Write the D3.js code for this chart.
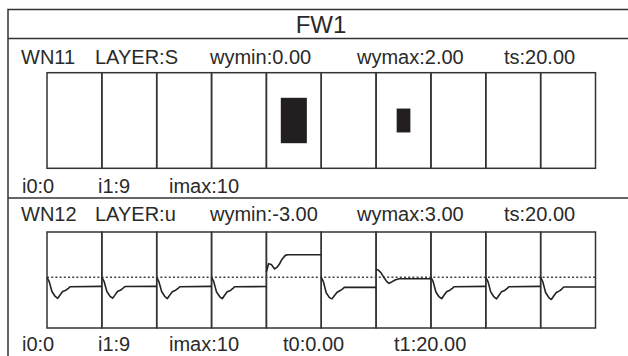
<!DOCTYPE html>
<html>
<head>
<meta charset="utf-8">
<script src="https://cdn.jsdelivr.net/npm/d3@7"></script>
<style>
  html, body { margin: 0; padding: 0; background: #fff; overflow: hidden; }
  text { font-family: "Liberation Sans", Arial, sans-serif; fill: #2a2a2a; }
</style>
</head>
<body>
<script>
// ---------------- data ----------------
const title = "FW1";
const cellIndex = [0, 1, 2, 3, 4, 5, 6, 7, 8, 9];

// panel 1 (LAYER:S)
const p1Header = ["WN11", "LAYER:S", "wymin:0.00", "wymax:2.00", "ts:20.00"];
const p1Footer = ["i0:0", "i1:9", "imax:10"];
const p1YMin = 0, p1YMax = 2;
const p1Values = [0, 0, 0, 0, 0.95, 0, 0.5, 0, 0, 0];

// panel 2 (LAYER:u)
const p2Header = ["WN12", "LAYER:u", "wymin:-3.00", "wymax:3.00", "ts:20.00"];
const p2Footer = ["i0:0", "i1:9", "imax:10", "t0:0.00", "t1:20.00"];
const p2YMin = -3, p2YMax = 3;
const p2T0 = 0, p2T1 = 20;
const p2Ref = 0.17;
const uTimes = [0, 0.8, 1.8, 3.0, 3.9, 4.7, 5.7, 6.9, 7.8, 8.4, 20];
const uSeries = [
  [0.17, -0.10, -0.72, -1.03, -1.15, -0.95, -0.72, -0.64, -0.52, -0.42, -0.40],
  [0.17, -0.08, -0.70, -1.02, -1.14, -0.96, -0.72, -0.63, -0.50, -0.41, -0.40],
  [0.17, -0.10, -0.72, -1.04, -1.16, -0.96, -0.73, -0.64, -0.52, -0.42, -0.40],
  [0.17, -0.10, -0.74, -1.05, -1.17, -0.97, -0.74, -0.65, -0.53, -0.42, -0.41],
  [0.52,  1.02,  0.97,  0.69,  0.80,  0.98,  1.30,  1.54,  1.58,  1.58,  1.58],
  [0.17, -0.12, -0.80, -1.10, -1.18, -1.00, -0.78, -0.66, -0.55, -0.46, -0.46],
  [0.67,  0.62,  0.45,  0.12, -0.10, -0.21, -0.12,  0.00,  0.05,  0.08,  0.08],
  [0.17, -0.10, -0.75, -1.06, -1.17, -0.97, -0.74, -0.64, -0.52, -0.42, -0.40],
  [0.17, -0.10, -0.74, -1.06, -1.18, -0.98, -0.74, -0.65, -0.52, -0.42, -0.40],
  [0.17, -0.12, -0.78, -1.10, -1.22, -1.02, -0.78, -0.68, -0.55, -0.44, -0.44]
];

// ---------------- layout ----------------
const W = 628, H = 356;
const stroke = "#333";
const svg = d3.select("body").append("svg").attr("width", W).attr("height", H);

// outer frame (extends beyond viewport on right/bottom)
svg.append("rect").attr("x", 8).attr("y", 9.5).attr("width", 700).attr("height", 400)
  .attr("fill", "none").attr("stroke", stroke).attr("stroke-width", 1.5);
svg.append("line").attr("x1", 8).attr("x2", W + 10).attr("y1", 38.5).attr("y2", 38.5)
  .attr("stroke", stroke).attr("stroke-width", 1.5);
svg.append("line").attr("x1", 8).attr("x2", W + 10).attr("y1", 198).attr("y2", 198)
  .attr("stroke", stroke).attr("stroke-width", 1.5);

svg.append("text").attr("x", 321).attr("y", 33).attr("text-anchor", "middle")
  .style("font-size", "24px").text(title);

const x = d3.scaleBand().domain(cellIndex).range([47, 595.5]).paddingInner(0).paddingOuter(0);

const headerX = [21, 95, 210, 357, 504];
const footerX = [22, 98, 169, 283, 394];

function labels(arr, xs, y) {
  svg.append("g").selectAll("text").data(arr).join("text")
    .attr("x", (d, i) => xs[i])
    .attr("y", y).style("font-size", "20px").text(d => d);
}

function grid(top, bottom) {
  svg.append("g").selectAll("rect").data(cellIndex).join("rect")
    .attr("x", d => x(d)).attr("y", top)
    .attr("width", x.bandwidth()).attr("height", bottom - top)
    .attr("fill", "none").attr("stroke", stroke).attr("stroke-width", 1.5);
}

// ---------- panel 1 ----------
labels(p1Header, headerX, 64);
const p1Top = 72.7, p1Bot = 168.3;
grid(p1Top, p1Bot);
const sw = d3.scaleLinear().domain([0, p1YMax - p1YMin]).range([0, x.bandwidth()]);
const sh = d3.scaleLinear().domain([0, p1YMax - p1YMin]).range([0, p1Bot - p1Top]);
svg.append("g").selectAll("rect").data(p1Values.map((v, i) => ({ v, i })).filter(d => d.v > 0))
  .join("rect")
  .attr("x", d => x(d.i) + x.bandwidth() / 2 - sw(d.v) / 2)
  .attr("y", d => (p1Top + p1Bot) / 2 - sh(d.v) / 2)
  .attr("width", d => sw(d.v)).attr("height", d => sh(d.v))
  .attr("fill", "#231f20");
labels(p1Footer, footerX, 193);

// ---------- panel 2 ----------
labels(p2Header, headerX, 221);
const p2Top = 232, p2Bot = 328;
grid(p2Top, p2Bot);
const y2 = d3.scaleLinear().domain([p2YMin, p2YMax]).range([p2Bot, p2Top]);
svg.append("line").attr("x1", x(0)).attr("x2", x(9) + x.bandwidth())
  .attr("y1", y2(p2Ref)).attr("y2", y2(p2Ref))
  .attr("stroke", "#444").attr("stroke-width", 1.6).attr("stroke-dasharray", "2,2.2");
uSeries.forEach((vals, i) => {
  const xt = d3.scaleLinear().domain([p2T0, p2T1]).range([x(i), x(i) + x.bandwidth()]);
  const line = d3.line().x((d, k) => xt(uTimes[k])).y(d => y2(d)).curve(d3.curveLinear);
  svg.append("path").attr("d", line(vals)).attr("fill", "none")
    .attr("stroke", "#222").attr("stroke-width", 1.6).attr("stroke-linejoin", "round");
});
labels(p2Footer, footerX, 351);
</script>
</body>
</html>
